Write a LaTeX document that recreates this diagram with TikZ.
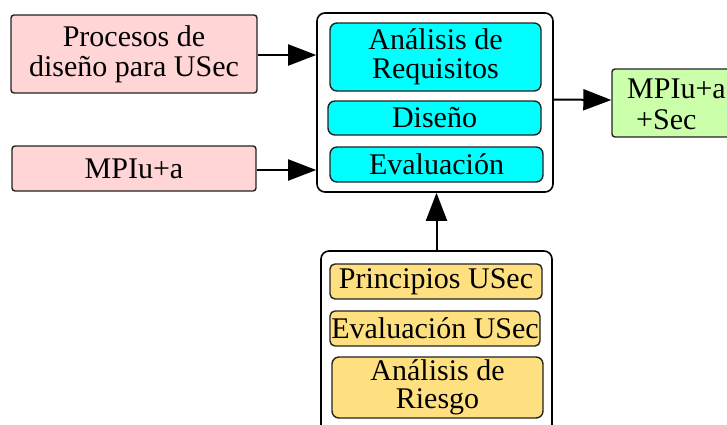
\documentclass[tikz,border=0pt]{standalone}
\usepackage{fontspec}
\setmainfont{Liberation Serif}
\usetikzlibrary{arrows.meta}
\definecolor{pinkfill}{HTML}{FFD5D5}
\definecolor{cyanfill}{HTML}{00FFFF}
\definecolor{greenfill}{HTML}{CCFFAA}
\definecolor{yellowfill}{HTML}{FFE080}
\definecolor{edge}{HTML}{222222}
\tikzset{
  box/.style={draw=edge, line width=1.4pt, rounded corners=3pt, inner sep=0pt, align=center,
    font=\fontsize{30}{28}\selectfont},
  inbox/.style={box, rounded corners=7pt},
  cont/.style={draw=black, line width=1.6pt, rounded corners=8pt, fill=white, inner sep=0pt},
  arr/.style={line width=2pt, -{Triangle[length=28pt,width=21pt]}}
}
\begin{document}
\begin{tikzpicture}[x=1pt,y=-1pt]
\useasboundingbox (0,0) rectangle (727,424);
% left inputs
\node[box, fill=pinkfill, minimum width=246pt, minimum height=78pt] (proc) at (134,54)
  {Procesos de\\[2pt]diseño para USec};
\node[box, fill=pinkfill, minimum width=244pt, minimum height=45pt] (mpiu) at (134,168.5) {MPIu+a};
% main container
\node[cont, minimum width=236pt, minimum height=179pt] (cont) at (435,102.5) {};
\node[inbox, fill=cyanfill, minimum width=211pt, minimum height=68pt] (req) at (435.5,57)
  {Análisis de\\[1pt]Requisitos};
\node[inbox, fill=cyanfill, minimum width=213pt, minimum height=34pt] (dis) at (434.5,118) {Diseño};
\node[inbox, fill=cyanfill, minimum width=213pt, minimum height=35pt] (eva) at (436.5,164.5) {Evaluación};
% output
\node[box, fill=greenfill, minimum width=130pt, minimum height=68pt] (sec) at (677,103) {};
\node[anchor=west, align=left, inner sep=0pt, font=\fontsize{30}{30}\selectfont] (sect) at (627,104)
  {MPIu+a\\[1pt]\hspace*{9pt}+Sec};
% bottom container
\node[cont, minimum width=231pt, minimum height=190pt] (bot) at (436.5,346) {};
\node[inbox, fill=yellowfill, minimum width=212pt, minimum height=35pt, rounded corners=5pt] (prin) at (436,281.5) {Principios USec};
\node[inbox, fill=yellowfill, minimum width=210pt, minimum height=35pt, rounded corners=5pt] (evu) at (435,328.5) {Evaluación USec};
\node[inbox, fill=yellowfill, minimum width=211pt, minimum height=61pt] (ries) at (437.5,387.5)
  {Análisis de\\[0pt]Riesgo};
% arrows
\draw[arr] ([yshift=-1pt]proc.east) -- ([yshift=-1pt]proc.east -| cont.west);
\draw[arr] ([yshift=-1.5pt]mpiu.east) -- ([yshift=-1.5pt]mpiu.east -| cont.west);
\draw[arr] ([yshift=3pt]cont.east) -- ([yshift=3pt]sec.west);
\draw[arr] (bot.north) -- (bot.north |- cont.south);
\end{tikzpicture}
\end{document}
